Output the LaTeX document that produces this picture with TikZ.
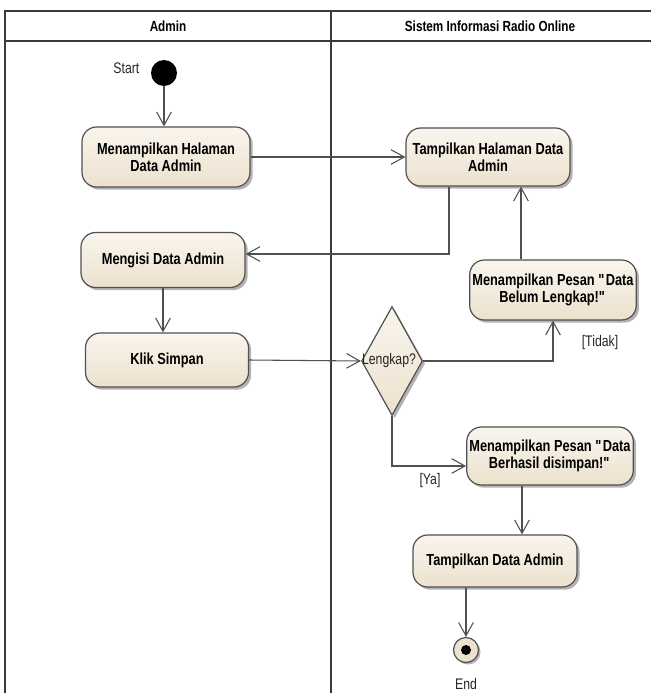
\documentclass[tikz,border=0pt]{standalone}
\usepackage{fontspec}
\setmainfont{Liberation Sans}[FakeStretch=0.8]
\usetikzlibrary{arrows.meta,shapes.geometric,shadows,calc}
\definecolor{actfillT}{HTML}{F9F5EE}
\definecolor{actfillB}{HTML}{ECE1CD}
\definecolor{edgecol}{HTML}{505050}
\definecolor{lanecol}{HTML}{3A3A3A}

\begin{document}
\begin{tikzpicture}[x=0.75pt,y=-0.75pt,
  activity/.style={draw=edgecol, line width=0.9pt, rounded corners=11pt,
    top color=actfillT, bottom color=actfillB,
    drop shadow={shadow xshift=2pt,shadow yshift=-2pt,opacity=0.3,fill=black},
    align=center, font=\bfseries\fontsize{12}{13}\selectfont, inner sep=2pt},
  flow/.style={draw=edgecol, line width=0.8pt, -{Straight Barb[length=10pt,width=11pt]}},
  lbl/.style={font=\fontsize{11.5}{13}\selectfont, text=black!85, inner sep=1pt},
  lanehead/.style={font=\bfseries\fontsize{11}{13}\selectfont},
]
\useasboundingbox (0,0) rectangle (651,693);

% swimlane frame
\draw[lanecol, line width=1.2pt] (5,693) -- (5,11) -- (651,11);
\draw[lanecol, line width=1.2pt] (5,41) -- (651,41);
\draw[lanecol, line width=1.2pt] (331,11) -- (331,693);
\node[lanehead] (hadmin) at (168,26) {Admin};
\node[lanehead] (hsys) at (490,26) {Sistem Informasi Radio Online};

% start / end
\node[circle, fill=black, minimum size=19.5pt, inner sep=0pt] (start) at (164,73) {};
\node[lbl, anchor=east] (startlbl) at (141,68) {Start};

\node[circle, draw=edgecol, line width=0.9pt, fill=actfillB, minimum size=18.75pt, inner sep=0pt,
  drop shadow={shadow xshift=1.5pt,shadow yshift=-1.5pt,opacity=0.3,fill=black}] (end) at (466,650) {};
\fill[black] (end.center) circle (3.75pt);
\node[lbl] (endlbl) at (466,684) {End};

% activities
\node[activity, minimum width=126pt, minimum height=45pt] (a1) at (166,157) {Menampilkan Halaman\\Data Admin};
\node[activity, minimum width=123pt, minimum height=43.5pt] (b1) at (488,157) {Tampilkan Halaman Data\\Admin};
\node[activity, minimum width=123pt, minimum height=41.25pt] (a2) at (163,260) {Mengisi Data Admin};
\node[activity, minimum width=123.75pt, minimum height=45pt] (b2) at (553,290) {Menampilkan Pesan \textquotedbl Data\\Belum Lengkap!\textquotedbl};
\node[activity, minimum width=122.25pt, minimum height=40.5pt] (a3) at (167,360) {Klik Simpan};
\node[activity, minimum width=123.75pt, minimum height=43.5pt] (b3) at (550,456) {Menampilkan Pesan \textquotedbl Data\\Berhasil disimpan!\textquotedbl};
\node[activity, minimum width=123pt, minimum height=39pt] (b4) at (495,561) {Tampilkan Data Admin};

% decision
\node[diamond, draw=edgecol, line width=0.9pt, top color=actfillT, bottom color=actfillB,
  minimum width=45.75pt, minimum height=81.75pt, inner sep=0pt,
  drop shadow={shadow xshift=2pt,shadow yshift=-2pt,opacity=0.3,fill=black}] (dec) at (392,361) {};
\node[lbl] (declbl) at (389,361) {Lengkap?};

% flows
\draw[flow] (start.south) -- (start.south |- a1.north);
\draw[flow] (a1.east) -- (b1.west);
\draw[flow] ($(b1.south)+(-39,0)$) coordinate (b1out) |- ($(a2.east)+(0,-6)$);
\draw[flow] ($(b2.north)+(-32,0)$) coordinate (b2out) -- (b2out |- b1.south);
\draw[flow] (a2.south) -- (a2.south |- a3.north);
\draw[flow] (a3.east) -- (dec.west);
\draw[flow] (dec.east) -| (b2.south);
\draw[flow] (dec.south) |- ($(b3.west)+(0,10)$);
\draw[flow] ($(b3.south)+(-28,0)$) coordinate (b3out) -- (b3out |- b4.north);
\draw[flow] (b4.south -| end) -- (end.north);

% guard labels
\node[lbl] (tidak) at (600,343) {[Tidak]};
\node[lbl] (ya) at (430,481) {[Ya]};
\end{tikzpicture}
\end{document}
